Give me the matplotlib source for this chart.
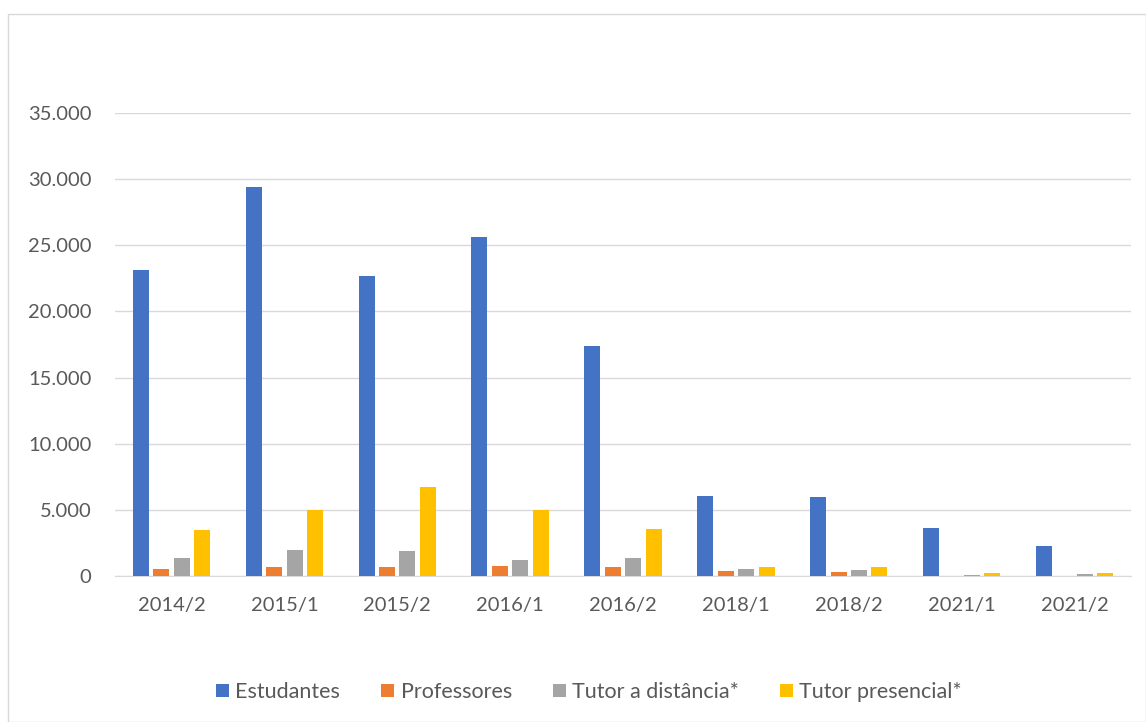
import matplotlib.pyplot as plt
import numpy as np
from matplotlib.patches import Rectangle
from matplotlib.ticker import FuncFormatter

plt.rcParams['font.family'] = ['Lato', 'DejaVu Sans']

periods = ['2014/2', '2015/1', '2015/2', '2016/1', '2016/2',
           '2018/1', '2018/2', '2021/1', '2021/2']
estudantes = [23100, 29400, 22700, 25600, 17400, 6050, 5970, 3630, 2270]
professores = [530, 700, 700, 780, 700, 380, 300, 0, 0]
tutor_distancia = [1360, 1990, 1910, 1210, 1360, 530, 450, 80, 150]
tutor_presencial = [3480, 4990, 6730, 4990, 3550, 660, 660, 230, 230]

series = [
    ('Estudantes', estudantes, '#4472c4'),
    ('Professores', professores, '#ed7d31'),
    ('Tutor a distância*', tutor_distancia, '#a5a5a5'),
    ('Tutor presencial*', tutor_presencial, '#ffc000'),
]

text_color = '#595959'
grid_color = '#d9d9d9'

fig = plt.figure(figsize=(11.46, 7.22), dpi=100)
fig.patches.append(Rectangle((8 / 1146, 0), 1 - 8 / 1146, 1 - 14 / 722,
                             transform=fig.transFigure, fill=False,
                             edgecolor=grid_color, linewidth=1))
ax = fig.add_axes([115 / 1146, 0.2022, 1016 / 1146, 0.6413])

x = np.arange(len(periods))
width = 0.142
pitch = 0.181
for i, (name, vals, color) in enumerate(series):
    offset = (i - 1.5) * pitch
    ax.bar(x + offset, vals, width, color=color, label=name, zorder=3)

ax.set_xlim(-0.5, len(periods) - 0.5)
ax.set_ylim(0, 35000)
ax.set_yticks(range(0, 35001, 5000))
ax.yaxis.set_major_formatter(
    FuncFormatter(lambda v, _: '{:,.0f}'.format(v).replace(',', '.')))
ax.set_xticks(x)
ax.set_xticklabels(periods)
ax.grid(axis='y', color=grid_color, linewidth=1, zorder=0)
for side in ['top', 'right', 'left']:
    ax.spines[side].set_visible(False)
ax.spines['bottom'].set_color(grid_color)
ax.tick_params(axis='both', length=0, labelsize=14.5, colors=text_color)
ax.tick_params(axis='x', pad=15)
ax.tick_params(axis='y', pad=17)

fig.legend(loc='center', bbox_to_anchor=(589 / 1146, 1 - 692 / 722),
           ncol=4, frameon=False, fontsize=15.5, handlelength=0.6,
           handleheight=0.6, handletextpad=0.3, columnspacing=1.9,
           labelcolor=text_color)

fig.savefig('out.png', dpi=100)
